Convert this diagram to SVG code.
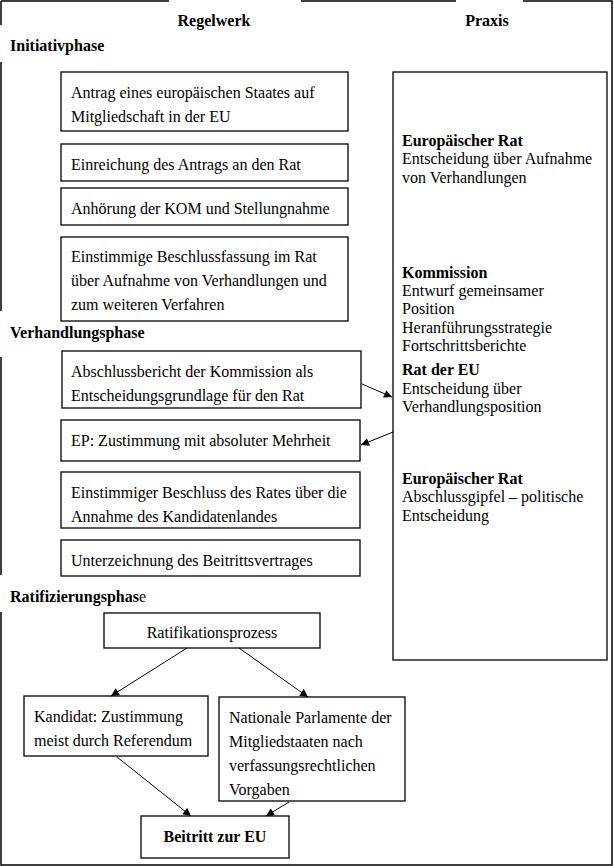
<svg xmlns="http://www.w3.org/2000/svg" width="614" height="866" viewBox="0 0 614 866" font-family="Liberation Serif, serif">
<defs>
<style>
text{font-family:"Liberation Serif","Times New Roman",serif;font-size:16px;fill:#000}
.b{font-weight:bold}
.box{fill:#fff;stroke:#000;stroke-width:1.3}
.frame{fill:none;stroke:#000;stroke-width:1.5}
.con{fill:none;stroke:#000;stroke-width:1;marker-end:url(#ah)}
</style>
<marker id="ah" viewBox="0 0 10 10" refX="10" refY="5" markerWidth="9" markerHeight="8" markerUnits="userSpaceOnUse" orient="auto">
<path d="M0,0 L10,5 L0,10 z" fill="#000"/>
</marker>
</defs>
<rect width="614" height="866" fill="#fff"/>
<g id="frame" class="frame">
<path d="M1,1 H169 M301,1 H456 M523,1 H612 V865 H1 V612 M1,575 V357 M1,311 V62 M1,25 V1"/>
</g>
<g id="headers">
<text class="b" x="214" y="26" text-anchor="middle">Regelwerk</text>
<text class="b" x="487" y="26" text-anchor="middle">Praxis</text>
<text class="b" x="10" y="51">Initiativphase</text>
<text class="b" x="10" y="338">Verhandlungsphase</text>
<text class="b" x="10" y="602">Ratifizierungsphas<tspan font-weight="normal">e</tspan></text>
</g>
<g id="n1"><rect class="box" x="61" y="72" width="287" height="59"/><text x="71" y="98">Antrag eines europäischen Staates auf</text><text x="71" y="122">Mitgliedschaft in der EU</text></g>
<g id="n2"><rect class="box" x="61" y="144" width="287" height="37"/><text x="71" y="170">Einreichung des Antrags an den Rat</text></g>
<g id="n3"><rect class="box" x="61" y="188" width="287" height="37"/><text x="71" y="214">Anhörung der KOM und Stellungnahme</text></g>
<g id="n4"><rect class="box" x="61" y="237" width="287" height="84"/><text x="71" y="262">Einstimmige Beschlussfassung im Rat</text><text x="71" y="286">über Aufnahme von Verhandlungen und</text><text x="71" y="310">zum weiteren Verfahren</text></g>
<g id="n5"><rect class="box" x="62" y="351" width="299" height="57"/><text x="71" y="377">Abschlussbericht der Kommission als</text><text x="71" y="401">Entscheidungsgrundlage für den Rat</text></g>
<g id="n6"><rect class="box" x="61" y="420" width="299" height="41"/><text x="71" y="446">EP: Zustimmung mit absoluter Mehrheit</text></g>
<g id="n7"><rect class="box" x="61" y="472" width="299" height="56"/><text x="71" y="498">Einstimmiger Beschluss des Rates über die</text><text x="71" y="522">Annahme des Kandidatenlandes</text></g>
<g id="n8"><rect class="box" x="61" y="540" width="299" height="36"/><text x="71" y="566">Unterzeichnung des Beitrittsvertrages</text></g>
<g id="praxis"><rect class="box" x="393" y="72" width="214" height="588"/>
<text x="402" y="146" class="b">Europäischer Rat</text>
<text x="402" y="164">Entscheidung über Aufnahme</text>
<text x="402" y="183">von Verhandlungen</text>
<text x="402" y="278" class="b">Kommission</text>
<text x="402" y="296">Entwurf gemeinsamer</text>
<text x="402" y="314">Position</text>
<text x="402" y="333">Heranführungsstrategie</text>
<text x="402" y="351">Fortschrittsberichte</text>
<text x="402" y="375" class="b">Rat der EU</text>
<text x="402" y="394">Entscheidung über</text>
<text x="402" y="412">Verhandlungsposition</text>
<text x="402" y="484" class="b">Europäischer Rat</text>
<text x="402" y="502">Abschlussgipfel – politische</text>
<text x="402" y="521">Entscheidung</text>
</g>
<g id="r1"><rect class="box" x="104" y="613" width="216" height="35"/><text x="212" y="638" text-anchor="middle">Ratifikationsprozess</text></g>
<g id="r2"><rect class="box" x="24" y="696" width="184" height="60"/><text x="34" y="722">Kandidat: Zustimmung</text><text x="34" y="746">meist durch Referendum</text></g>
<g id="r3"><rect class="box" x="219" y="697" width="186" height="104"/><text x="229" y="723">Nationale Parlamente der</text><text x="229" y="747">Mitgliedstaaten nach</text><text x="229" y="771">verfassungsrechtlichen</text><text x="229" y="795">Vorgaben</text></g>
<g id="r4"><rect class="box" x="141" y="816" width="148" height="42"/><text x="215" y="842" class="b" text-anchor="middle">Beitritt zur EU</text></g>
<g id="connectors">
<path class="con" d="M362,384 L392,397"/>
<path class="con" d="M393,432 L361,445"/>
<path class="con" d="M187,648 L111,696"/>
<path class="con" d="M239,648 L308,697"/>
<path class="con" d="M117,757 L191,816"/>
<path class="con" d="M289,802 L266,816"/>
</g>
</svg>
